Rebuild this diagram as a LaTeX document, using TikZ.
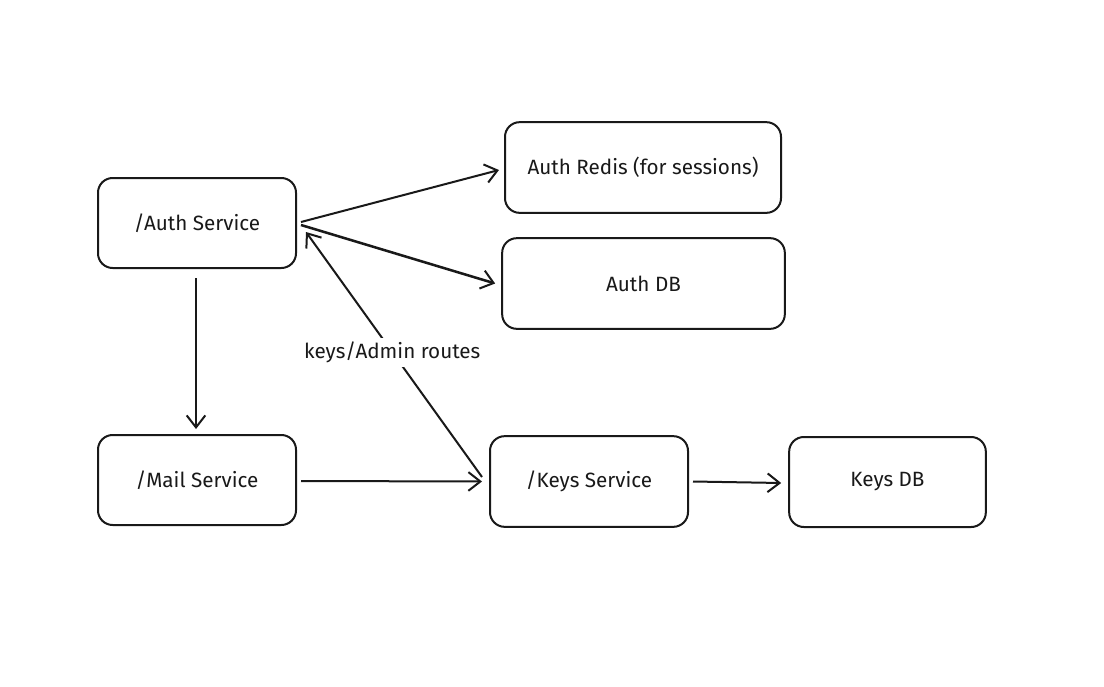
\documentclass[tikz,border=0pt]{standalone}
\usepackage{fontspec}
\setmainfont{Fira Sans}
\usetikzlibrary{arrows.meta}
\begin{document}
\begin{tikzpicture}[x=0.75pt,y=-0.75pt,
  svcbox/.style={draw=black!90, line width=1.5pt, rounded corners=11pt, fill=white,
    font=\fontsize{15.5}{18}\selectfont, text=black!90},
  link/.style={draw=black!90, line width=1.5pt,
    -{Straight Barb[length=9pt,width=14pt,line width=1.5pt]}},
  lbl/.style={fill=white, font=\fontsize{15.5}{18}\selectfont, text=black!90, inner sep=3pt}]
\useasboundingbox (0,0) rectangle (1104,686);
\fill[white] (0,0) rectangle (1104,686);

% service and store boxes
\node[svcbox, minimum width=148.5pt, minimum height=67.5pt] (auth)  at (197,223) {/Auth Service};
\node[svcbox, minimum width=207pt,   minimum height=68pt]   (redis) at (643,167.5) {Auth Redis (for sessions)};
\node[svcbox, minimum width=212pt,   minimum height=68pt]   (authdb) at (643.5,283.5) {Auth DB};
\node[svcbox, minimum width=148.5pt, minimum height=67.5pt] (mail)  at (197,480) {/Mail Service};
\node[svcbox, minimum width=148.5pt, minimum height=68pt]   (keys)  at (589,481.5) {/Keys Service};
\node[svcbox, minimum width=147.5pt, minimum height=67.5pt] (keysdb) at (887.5,482) {Keys DB};

% connectors, with small gaps off the box borders
\draw[link] ([shift={(4,-1)}]auth.east) -- ([shift={(-5,2.5)}]redis.west);
\draw[link, line width=1.9pt] ([shift={(4,2)}]auth.east) -- ([shift={(-6,0)}]authdb.west);
\draw[link] ([shift={(-1,9)}]auth.south) -- ([shift={(-1,-5)}]mail.north);
\draw[link] ([shift={(4,1)}]mail.east) -- ([shift={(-7,0)}]keys.west);
\draw[link] ([shift={(-7,-4.5)}]keys.west) -- ([shift={(9,9)}]auth.east)
  node[lbl, pos=0.51] (routes) {keys/Admin routes};
\draw[link] ([shift={(4,0)}]keys.east) -- ([shift={(-7,1)}]keysdb.west);
\end{tikzpicture}
\end{document}
